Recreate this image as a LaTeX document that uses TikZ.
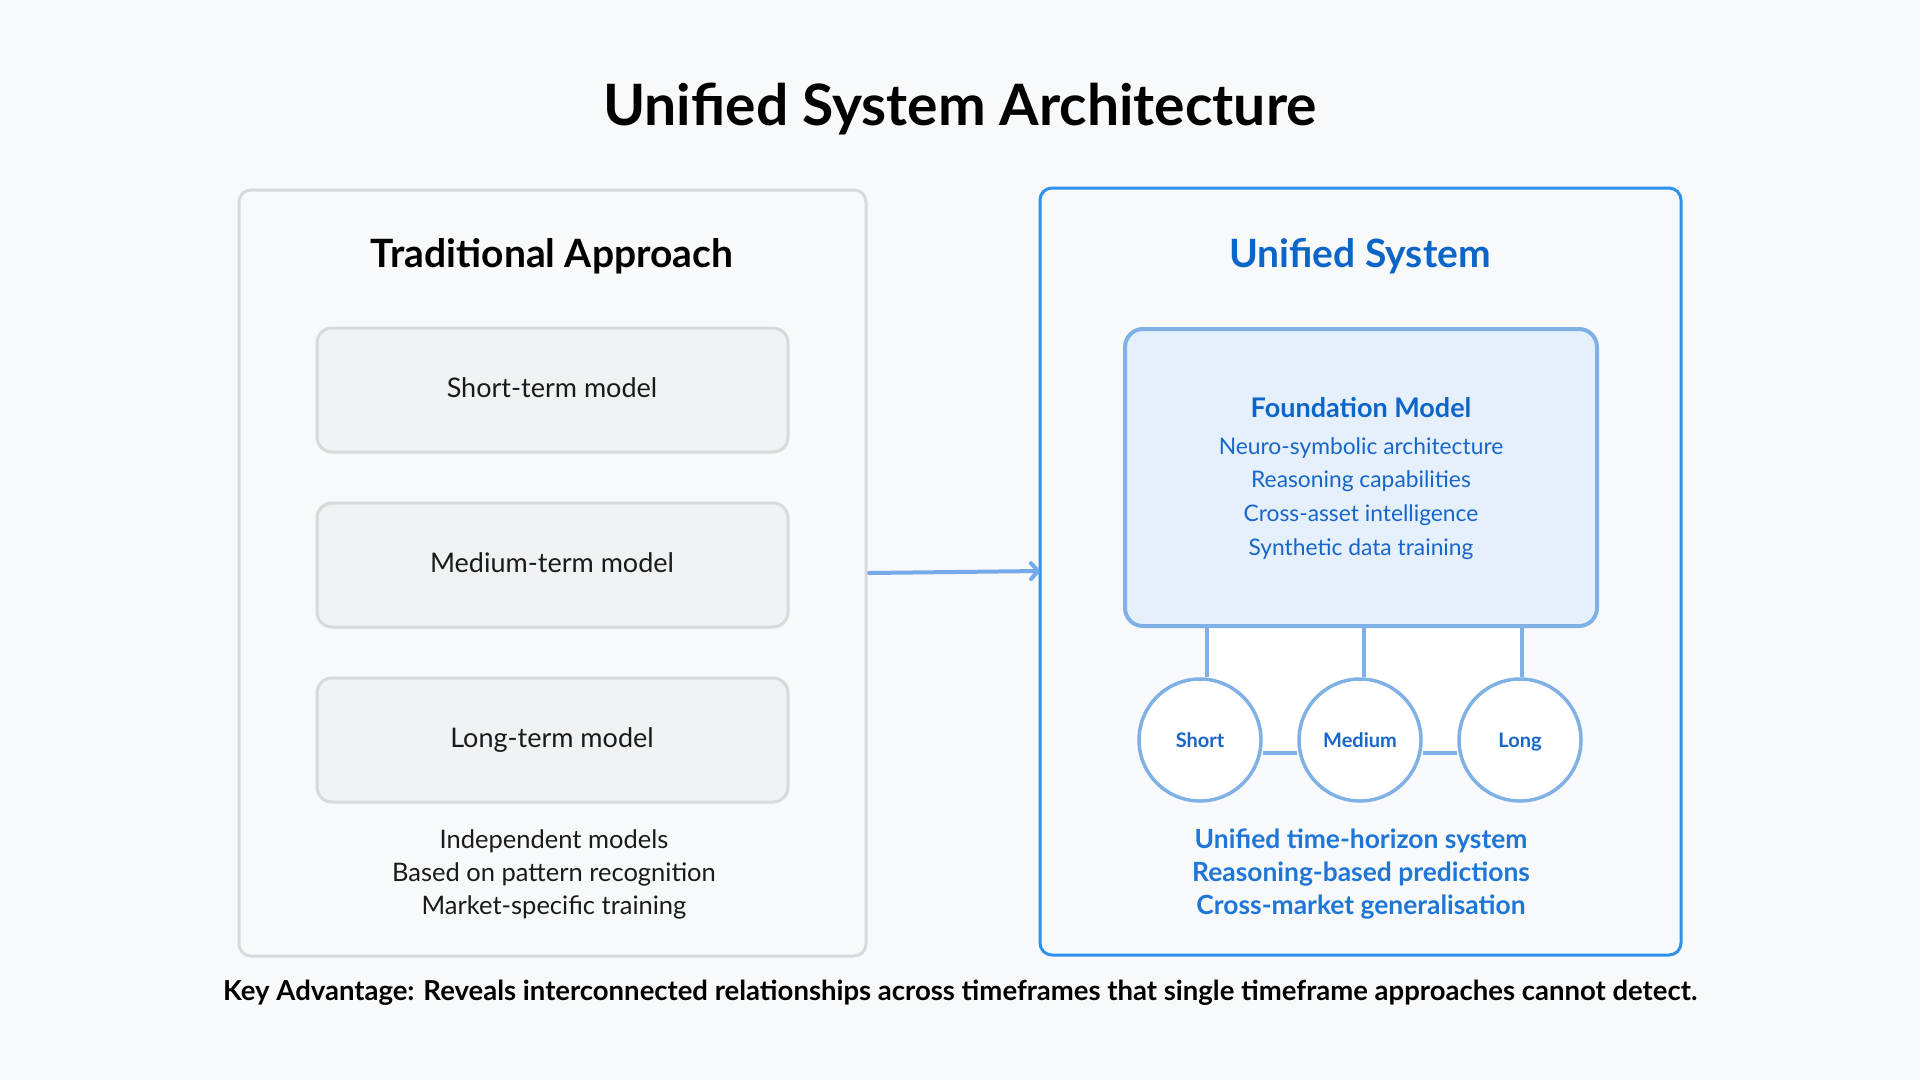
\documentclass[tikz,border=0pt]{standalone}
\usepackage{fontspec}
\setmainfont{Lato}
\usetikzlibrary{arrows.meta}
\definecolor{bgc}{HTML}{F7F9FB}
\definecolor{greyline}{HTML}{D8D9DB}
\definecolor{innerfill}{HTML}{F0F3F6}
\definecolor{bluebox}{HTML}{2E92EC}
\definecolor{bluetitle}{HTML}{0D66C7}
\definecolor{fmfill}{HTML}{E6F0FD}
\definecolor{fmline}{HTML}{80B1E6}
\definecolor{fmtext}{HTML}{1766C9}
\definecolor{bottomblue}{HTML}{1F76D6}
\definecolor{arrowc}{HTML}{74AAEA}
\definecolor{darktext}{HTML}{1A1A1A}
\tikzset{
  txt/.style={anchor=base, inner sep=0pt, outer sep=0pt},
  modelbox/.style={draw=greyline, fill=innerfill, line width=3pt, rounded corners=15pt},
  panel/.style={line width=3pt, rounded corners=12pt},
  horizon/.style={circle, draw=fmline, fill=white, line width=3.5pt, minimum size=122pt, inner sep=0pt},
  horizontext/.style={txt, font=\fontsize{20}{24}\selectfont\bfseries, text=fmtext},
  fmconn/.style={draw=fmline, line width=4pt},
}
\begin{document}
\begin{tikzpicture}[x=1pt,y=-1pt]
\fill[bgc] (0,0) rectangle (1920,1080);
\useasboundingbox (0,0) rectangle (1920,1080);

\node[txt, font=\fontsize{57}{64}\selectfont\bfseries, text=black] (title) at (960,125) {Unified System Architecture};

% left panel
\draw[panel, draw=greyline, fill=bgc] (239,190) rectangle (866,956);
\coordinate (leftpanelE) at (869,573);
\node[txt, font=\fontsize{39}{44}\selectfont\bfseries, text=black] (trad) at (552,267) {Traditional Approach};

\draw[modelbox] (317,328) rectangle (788,452);
\draw[modelbox] (317,503) rectangle (788,627);
\draw[modelbox] (317,678) rectangle (788,802);
\node[txt, font=\fontsize{27}{30}\selectfont, text=darktext] (m1) at (552,397) {Short-term model};
\node[txt, font=\fontsize{27}{30}\selectfont, text=darktext] (m2) at (552,572) {Medium-term model};
\node[txt, font=\fontsize{27}{30}\selectfont, text=darktext] (m3) at (552,747) {Long-term model};

\node[txt, font=\fontsize{25.5}{30}\selectfont, text=darktext] (l1) at (554,848) {Independent models};
\node[txt, font=\fontsize{25.5}{30}\selectfont, text=darktext] (l2) at (554,881) {Based on pattern recognition};
\node[txt, font=\fontsize{25.5}{30}\selectfont, text=darktext] (l3) at (554,914) {Market-specific training};

% right panel
\draw[panel, draw=bluebox, fill=bgc] (1040,188) rectangle (1681,955);
\coordinate (rightpanelW) at (1040,571);
\node[txt, font=\fontsize{39}{44}\selectfont\bfseries, text=bluetitle] (uni) at (1360,267) {Unified System};

% white area between connectors
\fill[white] (1207,626) rectangle (1522,753);

\draw[fmline, line width=4pt, fill=fmfill, rounded corners=18pt] (1125,329) rectangle (1597,626);
\coordinate (fmS1) at (1207,626);
\coordinate (fmS2) at (1364,626);
\coordinate (fmS3) at (1522,626);
\node[txt, font=\fontsize{27}{30}\selectfont\bfseries, text=bluetitle] (fm) at (1361,417) {Foundation Model};
\node[txt, font=\fontsize{22.8}{26}\selectfont, text=fmtext] (f1) at (1361,454) {Neuro-symbolic architecture};
\node[txt, font=\fontsize{22.8}{26}\selectfont, text=fmtext] (f2) at (1361,487) {Reasoning capabilities};
\node[txt, font=\fontsize{22.8}{26}\selectfont, text=fmtext] (f3) at (1361,521) {Cross-asset intelligence};
\node[txt, font=\fontsize{22.8}{26}\selectfont, text=fmtext] (f4) at (1361,555) {Synthetic data training};

\node[horizon] (short) at (1200,740) {};
\node[horizon] (medium) at (1360,740) {};
\node[horizon] (long) at (1520,740) {};

\draw[fmconn] (fmS1) -- (fmS1 |- short.north);
\draw[fmconn] (fmS2) -- (fmS2 |- medium.north);
\draw[fmconn] (fmS3) -- (fmS3 |- long.north);
\draw[fmconn] ([yshift=-13pt]short.east) -- ([yshift=-13pt]medium.west);
\draw[fmconn] ([yshift=-13pt]medium.east) -- ([yshift=-13pt]long.west);

\node[horizontext] (shortlbl) at (1200,747) {Short};
\node[horizontext] (mediumlbl) at (1360,747) {Medium};
\node[horizontext] (longlbl) at (1520,747) {Long};

\node[txt, font=\fontsize{26.4}{30}\selectfont\bfseries, text=bottomblue] (r1) at (1361,848) {Unified time-horizon system};
\node[txt, font=\fontsize{26.4}{30}\selectfont\bfseries, text=bottomblue] (r2) at (1361,881) {Reasoning-based predictions};
\node[txt, font=\fontsize{26.4}{30}\selectfont\bfseries, text=bottomblue] (r3) at (1361,914) {Cross-market generalisation};

% arrow
\draw[arrowc, line width=4pt, line cap=round, -{Straight Barb[length=7pt, width=16pt, line cap=round, line join=round]}] (leftpanelE) -- (rightpanelW);

\node[txt, font=\fontsize{27.5}{30}\selectfont\bfseries, text=black] (key) at (960,1000) {Key Advantage: Reveals interconnected relationships across timeframes that single timeframe approaches cannot detect.};
\end{tikzpicture}
\end{document}
